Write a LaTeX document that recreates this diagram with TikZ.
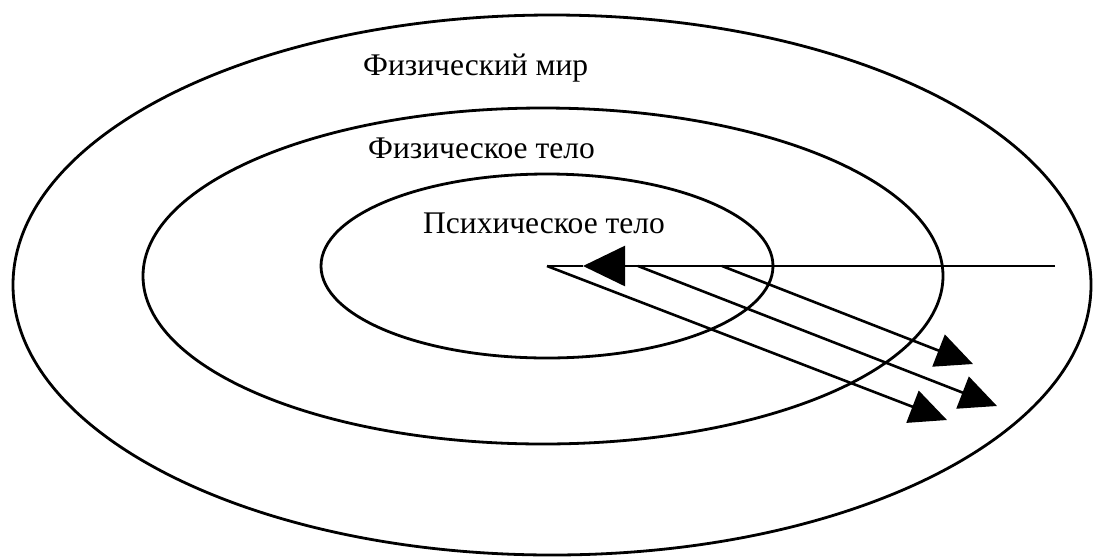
\documentclass[tikz,border=0pt]{standalone}
\usepackage{fontspec}
\setmainfont{Liberation Serif}
\usetikzlibrary{arrows.meta}
\begin{document}
\begin{tikzpicture}[x=1pt,y=-1pt,
  ring/.style={draw=black,line width=2.8pt},
  lbl/.style={anchor=base west,inner sep=0pt,font=\fontsize{31.5}{36}\selectfont},
  ray/.style={draw=black,line width=2.6pt,-{Triangle[length=37pt,width=34pt]}},
  hray/.style={draw=black,line width=2.6pt,-{Triangle[length=42pt,width=40pt]}}]
\useasboundingbox[fill=white] (0,0) rectangle (1095,558);
\draw[ring] (552,285) ellipse [x radius=539, y radius=270];
\draw[ring] (543,276) ellipse [x radius=400, y radius=168];
\draw[ring] (547,266) ellipse [x radius=226, y radius=92];
\node[lbl] (world) at (363,75) {Физический мир};
\node[lbl] (body) at (368,158) {Физическое тело};
\node[lbl] (psyche) at (423,233) {Психическое тело};
\coordinate (c) at (547,266);
\coordinate (r) at (1055,266);
\coordinate (h) at (583,266);
\coordinate (sa) at (638,266);
\coordinate (sb) at (722,266);
\coordinate (t1) at (973,364);
\coordinate (t2) at (997,406);
\coordinate (t3) at (947,420);
\draw[hray] (r) -- (h);
\draw[draw=black,line width=2.6pt] (h) -- (c);
\draw[ray] (c) -- (t3);
\draw[ray] (sa) -- (t2);
\draw[ray] (sb) -- (t1);
\end{tikzpicture}
\end{document}
